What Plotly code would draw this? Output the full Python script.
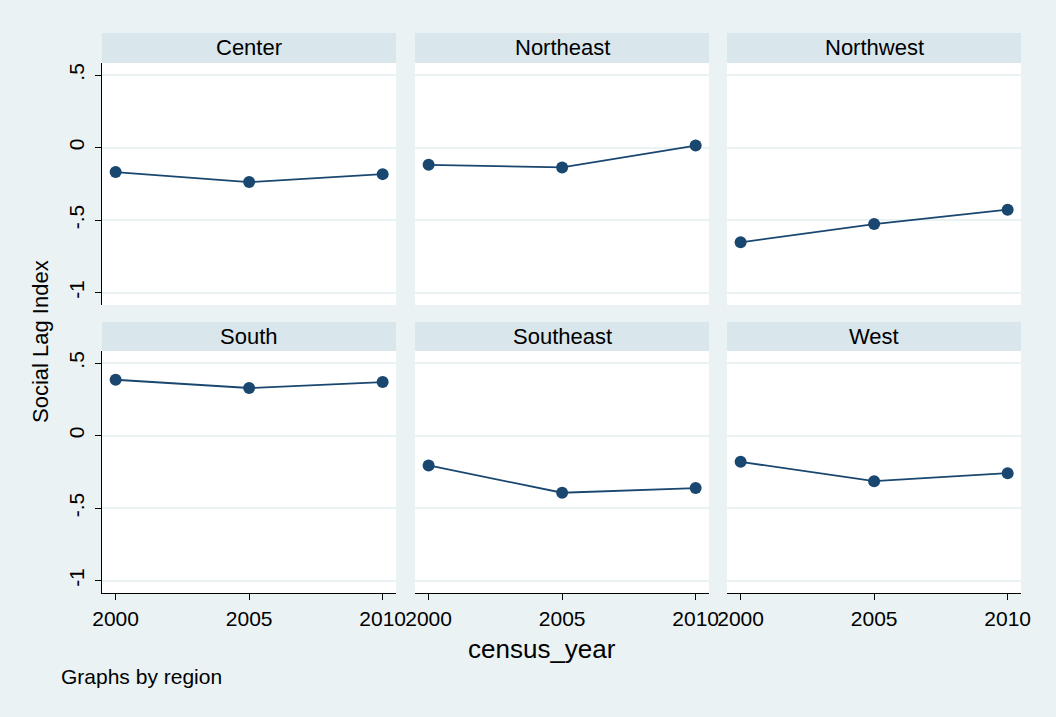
import plotly.graph_objects as go

years = [2000, 2005, 2010]
regions = ["Center", "Northeast", "Northwest", "South", "Southeast", "West"]
center = [-0.169, -0.238, -0.183]
northeast = [-0.119, -0.137, 0.014]
northwest = [-0.653, -0.527, -0.428]
south = [0.385, 0.328, 0.369]
southeast = [-0.206, -0.394, -0.362]
west = [-0.181, -0.314, -0.259]
series = [center, northeast, northwest, south, southeast, west]
y_tickvals = [-1, -0.5, 0, 0.5]
y_ticktext = ["-1", "-.5", "0", ".5"]
x_tickvals = [2000, 2005, 2010]

W, H = 1056, 717
BG = "#EAF2F3"
HEAD = "#D9E6EB"
NAVY = "#1A476F"
FONT = "Liberation Sans, Arial, sans-serif"

col_px = [(102, 396), (415, 709), (727, 1021)]
row_px = [(63, 305), (351, 593)]      # plot area top/bottom
head_px = [(33, 63), (322, 351)]

fig = go.Figure()
shapes = []
annotations = []
for i, (name, vals) in enumerate(zip(regions, series)):
    r, c = divmod(i, 3)
    n = i + 1
    xa = "x" if n == 1 else f"x{n}"
    ya = "y" if n == 1 else f"y{n}"
    fig.add_trace(go.Scatter(
        x=years, y=vals, mode="lines+markers", xaxis=xa, yaxis=ya,
        line=dict(color=NAVY, width=1.8),
        marker=dict(color=NAVY, size=12), showlegend=False,
        cliponaxis=False))
    x0, x1 = col_px[c]
    t, b = row_px[r]
    xdom = [x0 / W, x1 / W]
    ydom = [1 - b / H, 1 - t / H]
    bottom = (r == 1)
    left = (c == 0)
    fig.update_layout(**{
        ("xaxis" if n == 1 else f"xaxis{n}"): dict(
            domain=xdom, anchor=ya, range=[1999.49, 2010.5],
            tickvals=x_tickvals, showticklabels=bottom,
            ticks="outside" if bottom else "", ticklen=6, tickcolor="black",
            showline=bottom, linecolor="black", linewidth=1,
            showgrid=False, zeroline=False, automargin=False,
            ticklabelstandoff=1,
            tickfont=dict(family=FONT, size=21, color="black")),
        ("yaxis" if n == 1 else f"yaxis{n}"): dict(
            domain=ydom, anchor=xa, range=[-1.085, 0.583],
            tickvals=y_tickvals, ticktext=y_ticktext, showticklabels=left,
            ticks="outside" if left else "", ticklen=6, tickcolor="black",
            showline=left, linecolor="black", linewidth=1,
            showgrid=True, gridcolor=BG, gridwidth=1.5, zeroline=False,
            tickangle=-90, automargin=False, ticklabelstandoff=3,
            tickfont=dict(family=FONT, size=21, color="black")),
    })
    ht, hb = head_px[r]
    shapes.append(dict(type="rect", xref="paper", yref="paper",
                       x0=x0 / W, x1=x1 / W, y0=1 - hb / H, y1=1 - ht / H,
                       fillcolor=HEAD, line=dict(width=0), layer="below"))
    annotations.append(dict(text=name, xref="paper", yref="paper",
                            x=(x0 + x1) / 2 / W, y=1 - (ht + hb) / 2 / H,
                            xanchor="center", yanchor="middle", showarrow=False,
                            font=dict(family=FONT, size=22, color="black")))

annotations.append(dict(text="census_year", xref="paper", yref="paper",
                        x=542 / W, y=1 - 649 / H, xanchor="center", yanchor="middle",
                        showarrow=False, font=dict(family=FONT, size=26, color="black")))
annotations.append(dict(text="Social Lag Index", xref="paper", yref="paper",
                        x=40 / W, y=1 - 342 / H, xanchor="center", yanchor="middle",
                        textangle=-90, showarrow=False,
                        font=dict(family=FONT, size=22, color="black")))
annotations.append(dict(text="Graphs by region", xref="paper", yref="paper",
                        x=59 / W, y=1 - 676 / H, xanchor="left", yanchor="middle",
                        showarrow=False, font=dict(family=FONT, size=21, color="black")))

fig.update_layout(width=W, height=H, margin=dict(l=0, r=0, t=0, b=0),
                  paper_bgcolor=BG, plot_bgcolor="white",
                  shapes=shapes, annotations=annotations, showlegend=False)
fig.write_html("out.html")
